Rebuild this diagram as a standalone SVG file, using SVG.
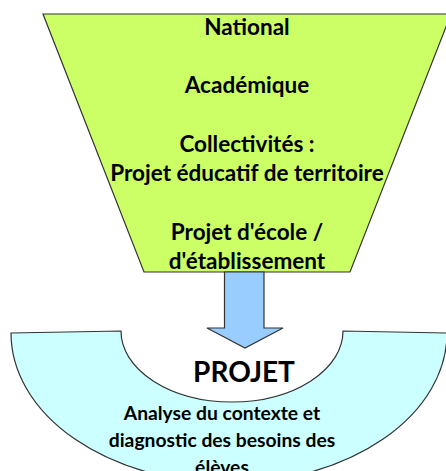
<svg xmlns="http://www.w3.org/2000/svg" width="446" height="471" viewBox="0 0 446 471">
<style>
.t{font-family:Lato,"Liberation Sans",sans-serif;font-weight:bold;fill:#000;text-anchor:middle}
.s{stroke:#333;stroke-width:1.2;stroke-linejoin:miter}
</style>
<rect width="446" height="471" fill="#fff"/>
<g id="levels">
<path class="s" d="M43,14 L451,14 L350,272 L144,272 Z" fill="#ccff66"/>
<text class="t" font-size="22.5" x="247" y="35">National</text>
<text class="t" font-size="22.5" x="247" y="93">Académique</text>
<text class="t" font-size="22.5" x="247" y="152">Collectivités :</text>
<text class="t" font-size="22.5" x="247" y="181">Projet éducatif de territoire</text>
<text class="t" font-size="22.5" x="247" y="240">Projet d'école /</text>
<text class="t" font-size="22.5" x="247" y="269">d'établissement</text>
</g>
<g id="connectors">
<path class="s" d="M224.5,272 L264,272 L264,328 L283,328 L245,348 L207,328 L224.5,328 Z" fill="#99ccff"/>
</g>
<g id="projet">
<path class="s" d="M11,333 L121,331 A111,71 0 0 0 343,331 L447,333 A218,150 0 0 1 11,333 Z" fill="#ccffff"/>
<text class="t" font-size="28" x="244" y="382">PROJET</text>
<text class="t" font-size="19.3" x="222" y="420">Analyse du contexte et</text>
<text class="t" font-size="19.3" x="222" y="447">diagnostic des besoins des</text>
<text class="t" font-size="19.3" x="222" y="474">élèves</text>
</g>
</svg>
